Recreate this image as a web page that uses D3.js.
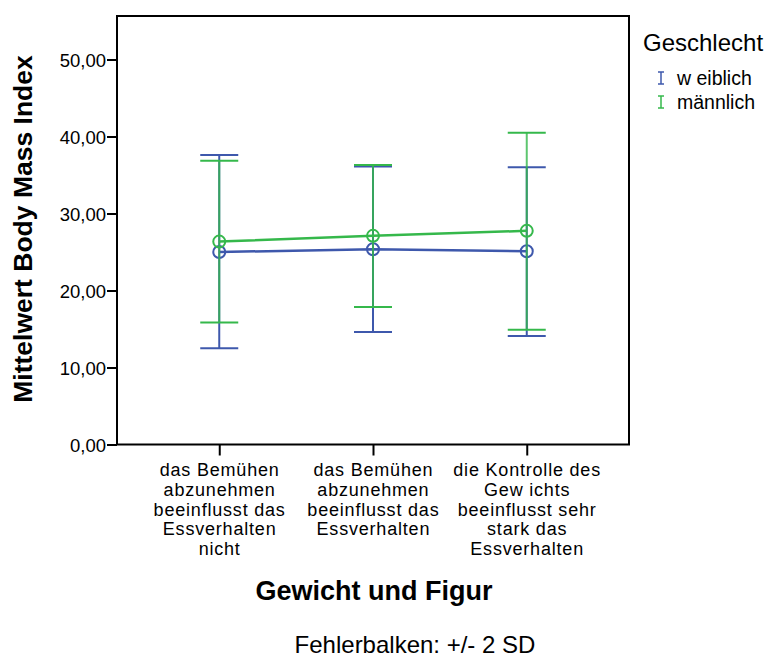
<!DOCTYPE html>
<html>
<head>
<meta charset="utf-8">
<script src="https://cdn.jsdelivr.net/npm/d3@7"></script>
<style>
  body { margin: 0; background: #fff; }
  svg { font-family: "Liberation Sans", Arial, sans-serif; }
</style>
</head>
<body>
<svg id="chart" width="768" height="657"></svg>
<script>
// Categories on the x axis (each label split into lines)
const categories = [
  ["das Bemühen", "abzunehmen", "beeinflusst das", "Essverhalten", "nicht"],
  ["das Bemühen", "abzunehmen", "beeinflusst das", "Essverhalten"],
  ["die Kontrolle des", "Gew ichts", "beeinflusst sehr", "stark das", "Essverhalten"]
];
const seriesNames = ["w eiblich", "männlich"];
const seriesColors = ["#3e58ac", "#35b84b"];

// Mean BMI per category
const meanWeiblich = [25.0, 25.35, 25.1];
const meanMaennlich = [26.35, 27.1, 27.75];
// Error bar bounds (+/- 2 SD)
const lowWeiblich = [12.5, 14.6, 14.1];
const highWeiblich = [37.6, 36.1, 36.0];
const lowMaennlich = [15.85, 17.85, 14.9];
const highMaennlich = [36.85, 36.3, 40.5];

const yTicks = [0, 10, 20, 30, 40, 50];

const svg = d3.select("#chart");
const plotLeft = 117, plotRight = 629, plotTop = 16, plotBottom = 444.5;

const x = d3.scalePoint().domain(d3.range(categories.length)).range([plotLeft, plotRight]).padding(0.665);
const y = d3.scaleLinear().domain([0, 55.65]).range([plotBottom, plotTop]);

const fmt = v => d3.format(".2f")(v).replace(".", ",");

// Plot frame
svg.append("rect")
  .attr("x", plotLeft).attr("y", plotTop)
  .attr("width", plotRight - plotLeft).attr("height", plotBottom - plotTop)
  .attr("fill", "none").attr("stroke", "#000").attr("stroke-width", 2);

// Y axis
const yAxis = d3.axisLeft(y).tickValues(yTicks).tickFormat(fmt).tickSize(10).tickSizeOuter(0);
const gy = svg.append("g").attr("transform", `translate(${plotLeft},0)`).call(yAxis);
gy.select(".domain").remove();
gy.selectAll(".tick line").attr("stroke", "#000").attr("stroke-width", 2);
gy.selectAll(".tick text").attr("font-size", 18.5).attr("fill", "#000")
  .attr("font-family", "Liberation Sans, Arial, sans-serif").attr("x", -11).attr("dy", "0.36em");

// X axis
const xAxis = d3.axisBottom(x).tickSize(11).tickFormat("");
const gx = svg.append("g").attr("transform", `translate(0,${plotBottom})`).call(xAxis);
gx.select(".domain").remove();
gx.selectAll(".tick line").attr("stroke", "#000").attr("stroke-width", 2);

// Multi-line category labels
categories.forEach((lines, i) => {
  const t = svg.append("text")
    .attr("text-anchor", "middle").attr("font-size", 18).attr("letter-spacing", 0.8)
    .attr("fill", "#000");
  lines.forEach((ln, j) => {
    t.append("tspan").attr("x", x(i) + 0.4).attr("y", 476 + j * 19.8).text(ln);
  });
});

// Axis titles
svg.append("text")
  .attr("x", 374).attr("y", 600).attr("text-anchor", "middle")
  .attr("font-size", 27).attr("font-weight", "bold").text("Gewicht und Figur");
svg.append("text")
  .attr("transform", "translate(32,229) rotate(-90)")
  .attr("text-anchor", "middle")
  .attr("font-size", 26.5).attr("font-weight", "bold").text("Mittelwert Body Mass Index");

// Footnote
svg.append("text")
  .attr("x", 415).attr("y", 653).attr("text-anchor", "middle")
  .attr("font-size", 24).text("Fehlerbalken: +/- 2 SD");

// Series
const series = [
  { mean: meanWeiblich, low: lowWeiblich, high: highWeiblich, color: seriesColors[0] },
  { mean: meanMaennlich, low: lowMaennlich, high: highMaennlich, color: seriesColors[1] }
];
const capHalf = 19;

series.forEach((s, si) => {
  const g = svg.append("g");
  const idx = d3.range(categories.length);
  // error bars
  g.selectAll("line.v").data(idx).join("line")
    .attr("x1", i => x(i)).attr("x2", i => x(i))
    .attr("y1", i => y(s.low[i])).attr("y2", i => y(s.high[i]))
    .attr("stroke", s.color).attr("stroke-width", 2)
    .attr("stroke-opacity", si === 1 ? 0.8 : 1);
  ["low", "high"].forEach(k => {
    g.selectAll("line.c" + k).data(idx).join("line")
      .attr("x1", i => x(i) - capHalf).attr("x2", i => x(i) + capHalf)
      .attr("y1", i => y(s[k][i])).attr("y2", i => y(s[k][i]))
      .attr("stroke", s.color).attr("stroke-width", 2);
  });
  // mean line
  g.append("path")
    .datum(idx)
    .attr("d", d3.line().x(i => x(i)).y(i => y(s.mean[i])))
    .attr("fill", "none").attr("stroke", s.color).attr("stroke-width", 2.5);
  // markers
  g.selectAll("circle").data(idx).join("circle")
    .attr("cx", i => x(i)).attr("cy", i => y(s.mean[i])).attr("r", 6)
    .attr("fill", "none").attr("stroke", s.color).attr("stroke-width", 2);
});

// Legend
const lg = svg.append("g");
lg.append("text").attr("x", 643).attr("y", 51).attr("font-size", 24).text("Geschlecht");
seriesNames.forEach((name, i) => {
  const yy = 78 + i * 24;
  const cx = 661;
  const gI = lg.append("g").attr("stroke", seriesColors[i]).attr("stroke-width", 1.5);
  gI.append("line").attr("x1", cx).attr("x2", cx).attr("y1", yy - 6).attr("y2", yy + 6);
  gI.append("line").attr("x1", cx - 3).attr("x2", cx + 3).attr("y1", yy - 6).attr("y2", yy - 6);
  gI.append("line").attr("x1", cx - 3).attr("x2", cx + 3).attr("y1", yy + 6).attr("y2", yy + 6);
  lg.append("text").attr("x", 677).attr("y", yy + 7).attr("font-size", 19.5).text(name);
});
</script>
</body>
</html>
